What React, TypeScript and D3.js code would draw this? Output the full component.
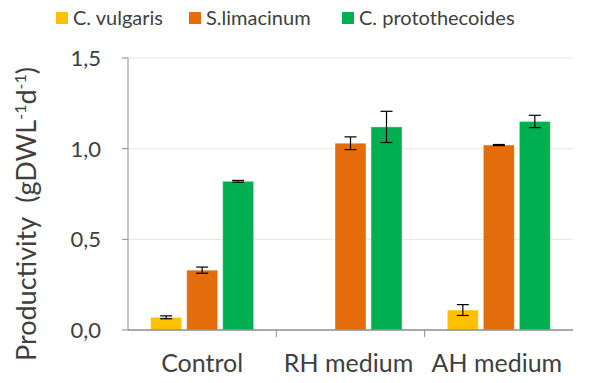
import React from "react";
import * as d3 from "d3";

const categories = ["Control", "RH medium", "AH medium"];
const series = ["C. vulgaris", "S.limacinum", "C. protothecoides"];
const colors = ["#FFC000", "#E46C0A", "#00B050"];
// values[series][category], null = no bar
const cVulgaris = [0.07, null, 0.11];
const sLimacinum = [0.33, 1.03, 1.02];
const cProto = [0.82, 1.12, 1.15];
const cVulgarisErr = [0.008, null, 0.03];
const sLimacinumErr = [0.017, 0.035, 0.003];
const cProtoErr = [0.005, 0.086, 0.034];
const yTicks = [0, 0.5, 1.0, 1.5];

const values = [cVulgaris, sLimacinum, cProto];
const errors = [cVulgarisErr, sLimacinumErr, cProtoErr];

const W = 596;
const H = 383;
const font = "Lato, 'Open Sans', sans-serif";

export default function App() {
  const x0 = d3.scaleBand().domain(categories).range([128, 573]).padding(0);
  const x1 = d3
    .scaleBand()
    .domain(series)
    .range([0, x0.bandwidth()])
    .paddingInner(0.14)
    .paddingOuter(0.63);
  const y = d3.scaleLinear().domain([0, 1.5]).range([330, 58]);
  const fmt = (v: number) => d3.format(".1f")(v).replace(".", ",");

  return (
    <svg width={W} height={H} style={{ position: "absolute", left: 0, top: 0 }}>
      <rect width={W} height={H} fill="#fff" />
      {/* grid */}
      {yTicks.slice(1).map((t) => (
        <line key={t} x1={128} x2={573} y1={y(t)} y2={y(t)} stroke="#e6e6dc" strokeWidth={1} />
      ))}
      {/* bars */}
      {categories.map((c, ci) => (
        <g key={c} transform={`translate(${x0(c)},0)`}>
          {series.map((s, si) => {
            const v = values[si][ci];
            if (v == null) return null;
            const e = errors[si][ci] ?? 0;
            const bx = x1(s)!;
            const cx = bx + x1.bandwidth() / 2;
            return (
              <g key={s}>
                <rect
                  x={bx}
                  y={y(v)}
                  width={x1.bandwidth()}
                  height={y(0) - y(v)}
                  fill={colors[si]}
                  stroke="#fff"
                  strokeOpacity={0.4}
                />
                <line x1={cx} x2={cx} y1={y(v + e)} y2={y(v - e)} stroke="#000" strokeWidth={1.2} />
                <line x1={cx - 6} x2={cx + 6} y1={y(v + e)} y2={y(v + e)} stroke="#000" strokeWidth={1.2} />
                <line x1={cx - 6} x2={cx + 6} y1={y(v - e)} y2={y(v - e)} stroke="#000" strokeWidth={1.2} />
              </g>
            );
          })}
        </g>
      ))}
      {/* y axis */}
      <line x1={128} x2={128} y1={y(1.5)} y2={y(0)} stroke="#8c8c8c" />
      {yTicks.map((t) => (
        <g key={t}>
          <line x1={122} x2={128} y1={y(t)} y2={y(t)} stroke="#8c8c8c" />
          <text x={101} y={y(t)} dy="0.36em" textAnchor="end" fontFamily={font} fontSize={22} fill="#404040">
            {fmt(t)}
          </text>
        </g>
      ))}
      {/* x axis */}
      <line x1={128} x2={573} y1={y(0)} y2={y(0)} stroke="#8c8c8c" strokeWidth={1.5} />
      {categories.map((c, i) => (
        <g key={c}>
          {i > 0 && <line x1={x0(c)} x2={x0(c)} y1={y(0)} y2={y(0) + 7} stroke="#8c8c8c" />}
          <text
            x={x0(c)! + x0.bandwidth() / 2 - (i > 0 ? 2 : 0)}
            y={372}
            textAnchor="middle"
            fontFamily={font}
            fontSize={25}
            fill="#404040"
          >
            {c}
          </text>
        </g>
      ))}
      {/* y label */}
      <text
        transform={`translate(36,214) rotate(-90)`}
        textAnchor="middle"
        fontFamily={font}
        fontSize={27}
        fill="#404040"
      >
        Productivity
        <tspan dx={14}>(gDWL</tspan>
        <tspan fontSize={16} dy={-10}>-1</tspan>
        <tspan dy={10}>d</tspan>
        <tspan fontSize={16} dy={-10}>-1</tspan>
        <tspan dy={10}>)</tspan>
      </text>
      {/* legend */}
      {[56, 189, 342].map((lx, i) => (
        <g key={series[i]}>
          <rect x={lx} y={12} width={12} height={12} fill={colors[i]} />
          <text x={lx + 17} y={25} fontFamily={font} fontSize={20} fill="#404040">
            {series[i]}
          </text>
        </g>
      ))}
    </svg>
  );
}
